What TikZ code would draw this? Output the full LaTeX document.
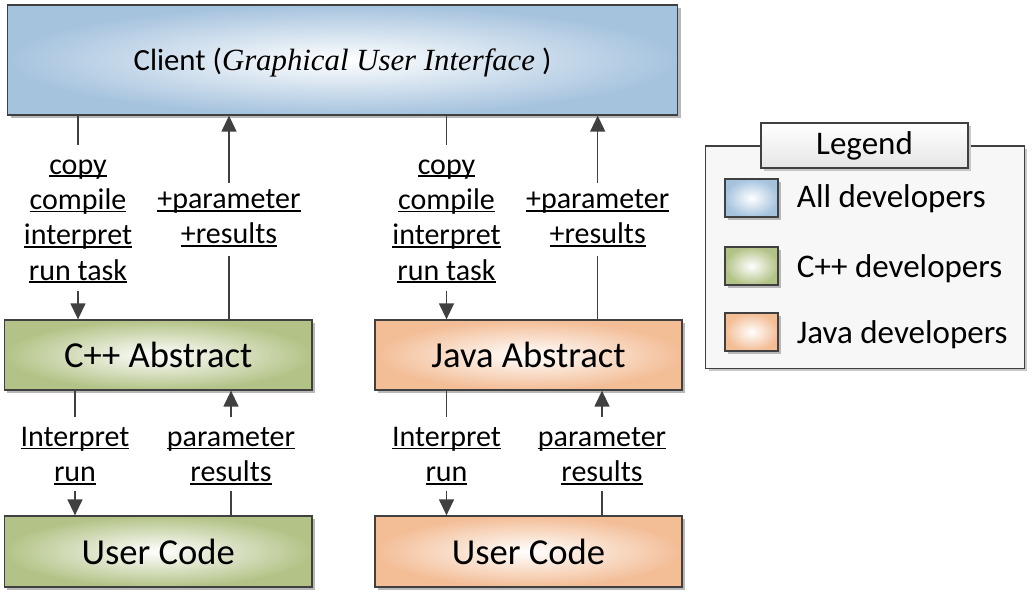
\documentclass[tikz,border=0pt]{standalone}
\usepackage{fontspec}
\setmainfont{Carlito}
\newfontfamily\tnrfont{Liberation Serif}
\usetikzlibrary{arrows.meta,shadows}
\definecolor{cblue}{HTML}{A6C3DE}
\definecolor{cgreen}{HTML}{B3C387}
\definecolor{corange}{HTML}{F3BD96}
\definecolor{cline}{HTML}{404040}
\newcommand\ulx[1]{\setbox0=\hbox{#1}\rlap{\rule[-0.1em]{\wd0}{0.055em}}\rule{0pt}{0.7em}\rule[-0.15em]{0pt}{0.15em}\box0}
\begin{document}
\begin{tikzpicture}[x=1pt,y=-1pt,
  box/.style={draw=cline,line width=1.3pt,inner sep=0pt,rectangle,inner color=white,outer color=#1,
    drop shadow={shadow xshift=3pt,shadow yshift=-3pt,fill=black!28,opacity=1}},
  bigtxt/.style={font=\fontsize{36.6}{44}\selectfont},
  lbl/.style={align=center,inner sep=0pt,font=\fontsize{30}{35.3}\selectfont},
  con/.style={draw=cline,line width=1.4pt},
  arr/.style={con,-{Triangle[length=16pt,width=15pt]}},
  legbox/.style={draw=cline,line width=1.3pt,inner sep=0pt,fill=black!3,
    drop shadow={shadow xshift=3pt,shadow yshift=-3pt,fill=black!22,opacity=1}},
  legtitle/.style={draw=cline,line width=1.3pt,inner sep=0pt,top color=white,bottom color=black!10,
    font=\fontsize{33}{40}\selectfont,
    drop shadow={shadow xshift=3pt,shadow yshift=-3pt,fill=black!22,opacity=1}},
  legtxt/.style={inner sep=0pt,anchor=base west,font=\fontsize{33}{40}\selectfont}]
\useasboundingbox (0,0) rectangle (1032,602);

% main boxes
\node[box=cblue,minimum width=670pt,minimum height=110pt,text height=21pt,text depth=0pt,
  font=\fontsize{30.8}{37}\selectfont] (client) at (342.5,60)
  {Client ({\tnrfont\itshape Graphical User Interface} )};
\node[box=cgreen,bigtxt,minimum width=307.5pt,minimum height=70pt] (cppA) at (158.2,355) {C++ Abstract};
\node[box=cgreen,bigtxt,minimum width=307.5pt,minimum height=71pt] (cppU) at (158.2,551.5) {User Code};
\node[box=corange,bigtxt,minimum width=307pt,minimum height=70pt] (javaA) at (528.5,355) {Java Abstract};
\node[box=corange,bigtxt,minimum width=307pt,minimum height=71pt] (javaU) at (528.5,551.5) {User Code};

% labels
\node[lbl,anchor=north] (cppDown) at (78,152.9) {\ulx{copy}\\\ulx{compile}\\\ulx{interpret}\\\ulx{run task}};
\node[lbl,anchor=north] (cppUp) at (229,187.4) {\ulx{+parameter}\\\ulx{+results}};
\node[lbl,anchor=north] (cppDown2) at (75,425) {\ulx{Interpret}\\\ulx{run}};
\node[lbl,anchor=north] (cppUp2) at (231,425) {\ulx{parameter}\\\ulx{results}};
\node[lbl,anchor=north] (javaDown) at (446.5,152.9) {\ulx{copy}\\\ulx{compile}\\\ulx{interpret}\\\ulx{run task}};
\node[lbl,anchor=north] (javaUp) at (597.7,187.4) {\ulx{+parameter}\\\ulx{+results}};
\node[lbl,anchor=north] (javaDown2) at (446.5,425) {\ulx{Interpret}\\\ulx{run}};
\node[lbl,anchor=north] (javaUp2) at (602,425) {\ulx{parameter}\\\ulx{results}};

% connectors C++
\draw[con,shorten >=8pt] (client.south -| cppDown.north) -- (cppDown.north);
\draw[arr,shorten <=6pt] (cppDown.south) -- (cppDown.south |- cppA.north);
\draw[arr,shorten <=4.4pt] (cppUp.north) -- (cppUp.north |- client.south);
\draw[con,shorten <=7.6pt] (cppUp.south) -- (cppUp.south |- cppA.north);
\draw[con,shorten >=8pt] (cppA.south -| cppDown2.north) -- (cppDown2.north);
\draw[arr,shorten <=4.3pt] (cppDown2.south) -- (cppDown2.south |- cppU.north);
\draw[arr,shorten <=8.3pt] (cppUp2.north) -- (cppUp2.north |- cppA.south);
\draw[con,shorten <=4.3pt] (cppUp2.south) -- (cppUp2.south |- cppU.north);
% connectors Java
\draw[con,shorten >=8pt] (client.south -| javaDown.north) -- (javaDown.north);
\draw[arr,shorten <=6pt] (javaDown.south) -- (javaDown.south |- javaA.north);
\draw[arr,shorten <=4.4pt] (javaUp.north) -- (javaUp.north |- client.south);
\draw[con,shorten <=7.6pt] (javaUp.south) -- (javaUp.south |- javaA.north);
\draw[con,shorten >=8pt] (javaA.south -| javaDown2.north) -- (javaDown2.north);
\draw[arr,shorten <=4.3pt] (javaDown2.south) -- (javaDown2.south |- javaU.north);
\draw[arr,shorten <=8.3pt] (javaUp2.north) -- (javaUp2.north |- javaA.south);
\draw[con,shorten <=4.3pt] (javaUp2.south) -- (javaUp2.south |- javaU.north);

% legend
\node[legbox,minimum width=318.6pt,minimum height=222.3pt] (legend) at (865,257.2) {};
\node[legtitle,minimum width=207pt,minimum height=45pt] (legtitle) at (864.5,145.5) {Legend};
\node[box=cblue,minimum width=53pt,minimum height=38pt] (swBlue) at (751.5,198) {};
\node[box=cgreen,minimum width=53pt,minimum height=38pt] (swGreen) at (751.5,266) {};
\node[box=corange,minimum width=53pt,minimum height=38pt] (swOrange) at (751.5,332) {};
\node[legtxt] (txBlue) at (796.7,207.5) {All developers};
\node[legtxt] (txGreen) at (796.7,277.5) {C++ developers};
\node[legtxt] (txOrange) at (796.7,343) {Java developers};
\end{tikzpicture}
\end{document}
